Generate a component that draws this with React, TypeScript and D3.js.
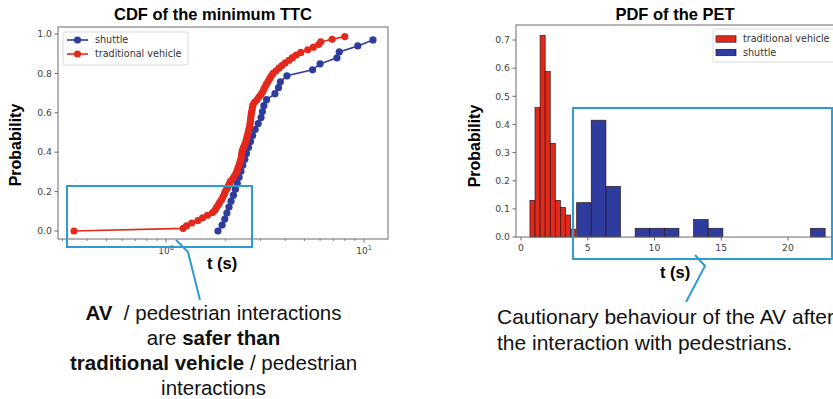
import React from "react";
import * as d3 from "d3";

// ---------- Data ----------
// CDF of minimum TTC (seconds), sorted samples; y = i / n
const shuttleTTC = [
  1.83, 1.92, 1.98, 2.03, 2.08, 2.13, 2.19, 2.24, 2.29, 2.34, 2.39, 2.44, 2.5, 2.55, 2.61, 2.67, 2.74,
  2.82, 2.92, 3.02, 3.07, 3.12, 3.22, 3.55, 3.7, 3.78, 4.08, 5.5, 6.0, 7.3, 7.5, 9.3, 11.1,
];
const vehicleTTC = [
  0.343, 1.22, 1.27, 1.35, 1.45, 1.53, 1.62, 1.72, 1.77, 1.8, 1.84, 1.87, 1.91, 1.94, 1.97, 1.99, 2.03,
  2.06, 2.09, 2.12, 2.18, 2.22, 2.26, 2.29, 2.31, 2.34, 2.36, 2.38, 2.4, 2.41, 2.42, 2.44, 2.47, 2.5,
  2.53, 2.55, 2.57, 2.59, 2.61, 2.63, 2.65, 2.66, 2.67, 2.68, 2.69, 2.7, 2.72, 2.73, 2.75, 2.8, 2.88,
  2.95, 3.02, 3.08, 3.12, 3.17, 3.22, 3.28, 3.34, 3.4, 3.47, 3.6, 3.72, 3.85, 4.0, 4.18, 4.35, 4.55,
  4.8, 5.2, 5.55, 5.9, 6.05, 6.9, 8.0,
];
const cdfXTicks = [1, 10];
const cdfYTicks = [0, 0.2, 0.4, 0.6, 0.8, 1.0];

// PDF of PET histograms
const vehicleEdges = [0.67, 1.05, 1.43, 1.81, 2.19, 2.57, 2.95, 3.33, 3.71, 4.09];
const vehicleDensity = [0.13, 0.46, 0.716, 0.588, 0.333, 0.13, 0.105, 0.078, 0.028];
const shuttleEdges = [
  4.17, 5.26, 6.36, 7.45, 8.55, 9.64, 10.74, 11.83, 12.93, 14.02, 15.12, 16.21, 17.31, 18.4, 19.5,
  20.59, 21.69, 22.78,
];
const shuttleDensity = [0.122, 0.415, 0.18, 0, 0.031, 0.031, 0.031, 0, 0.062, 0.031, 0, 0, 0, 0, 0, 0, 0.031];
const pdfXTicks = [0, 5, 10, 15, 20];
const pdfYTicks = [0, 0.1, 0.2, 0.3, 0.4, 0.5, 0.6, 0.7];

// ---------- Style ----------
const RED = "#e2291c";
const BLUE = "#2d3c9e";
const ANNO = "#2f9bd5";
const AXIS = "#6a6a6a";
const TICKTXT = "#444";
const SANS = "'Liberation Sans', Arial, sans-serif";
const MPL = "'DejaVu Sans', sans-serif";

function CdfChart() {
  const L = 58, R = 388, T = 27, B = 239;
  const x = d3.scaleLog().domain([Math.pow(10, -0.5455), Math.pow(10, 1.1212)]).range([L, R]);
  const y = d3.scaleLinear().domain([-0.0406, 1.0355]).range([B, T]);
  const line = d3.line<[number, number]>().x((d) => x(d[0])).y((d) => y(d[1]));
  const sPts: [number, number][] = shuttleTTC.map((t, i) => [t, i / shuttleTTC.length]);
  const vPts: [number, number][] = vehicleTTC.map((t, i) => [t, i / vehicleTTC.length]);
  const minor = x.ticks(30).filter((t) => !cdfXTicks.includes(t) && x(t) >= L && x(t) <= R);
  return (
    <g>
      <text x={213} y={20} textAnchor="middle" fontFamily={SANS} fontWeight="bold" fontSize={16.5}>
        CDF of the minimum TTC
      </text>
      {/* series */}
      <path d={line(sPts) || ""} fill="none" stroke={BLUE} strokeWidth={1.6} />
      {sPts.map((p, i) => (
        <circle key={"s" + i} cx={x(p[0])} cy={y(p[1])} r={3.6} fill={BLUE} />
      ))}
      <path d={line(vPts) || ""} fill="none" stroke={RED} strokeWidth={1.6} />
      {vPts.map((p, i) => (
        <circle key={"v" + i} cx={x(p[0])} cy={y(p[1])} r={3.6} fill={RED} />
      ))}
      {/* frame */}
      <rect x={L} y={T} width={R - L} height={B - T} fill="none" stroke={AXIS} strokeWidth={1} />
      {/* y ticks */}
      {cdfYTicks.map((v) => (
        <g key={"yt" + v}>
          <line x1={L - 3.5} x2={L} y1={y(v)} y2={y(v)} stroke={AXIS} />
          <text x={L - 6} y={y(v) + 3.3} textAnchor="end" fontFamily={MPL} fontSize={9.3} fill={TICKTXT}>
            {v.toFixed(1)}
          </text>
        </g>
      ))}
      {/* x ticks */}
      {cdfXTicks.map((v) => (
        <g key={"xt" + v}>
          <line x1={x(v)} x2={x(v)} y1={B} y2={B + 3.5} stroke={AXIS} />
          <text x={x(v)} y={B + 15} textAnchor="middle" fontFamily={MPL} fontSize={9} fill={TICKTXT}>
            10
            <tspan fontSize={6.5} dy={-4}>
              {Math.round(Math.log10(v))}
            </tspan>
          </text>
        </g>
      ))}
      {minor.map((v, i) => (
        <line key={"mn" + i} x1={x(v)} x2={x(v)} y1={B} y2={B + 2} stroke={AXIS} strokeWidth={0.8} />
      ))}
      <text x={222} y={269} textAnchor="middle" fontFamily={SANS} fontWeight="bold" fontSize={16.5}>
        t (s)
      </text>
      <text
        transform={`translate(21,145) rotate(-90)`}
        textAnchor="middle"
        fontFamily={SANS}
        fontWeight="bold"
        fontSize={16}
      >
        Probability
      </text>
      {/* legend */}
      <rect x={63} y={32} width={125} height={33} rx={2} fill="white" stroke="#d0d0d0" strokeWidth={0.8} />
      {[
        { label: "shuttle", color: BLUE, yy: 40 },
        { label: "traditional vehicle", color: RED, yy: 54 },
      ].map((e) => (
        <g key={e.label}>
          <line x1={67} x2={88} y1={e.yy} y2={e.yy} stroke={e.color} strokeWidth={1.6} />
          <circle cx={77.5} cy={e.yy} r={3.6} fill={e.color} />
          <text x={95} y={e.yy + 3.4} fontFamily={MPL} fontSize={9.6} fill="#333">
            {e.label}
          </text>
        </g>
      ))}
    </g>
  );
}

function PdfChart() {
  const L = 516, R = 845, T = 25, B = 237;
  const x = d3.scaleLinear().domain([-0.375, 24.27]).range([L, R]);
  const y = d3.scaleLinear().domain([0, 0.7534]).range([B, T]);
  const bars = (edges: number[], dens: number[], color: string, key: string) =>
    dens.map((h, i) =>
      h > 0 ? (
        <rect
          key={key + i}
          x={x(edges[i])}
          y={y(h)}
          width={x(edges[i + 1]) - x(edges[i])}
          height={y(0) - y(h)}
          fill={color}
          stroke="#2a1a1a"
          strokeWidth={0.7}
        />
      ) : null
    );
  return (
    <g>
      <text x={675} y={20} textAnchor="middle" fontFamily={SANS} fontWeight="bold" fontSize={16.5}>
        PDF of the PET
      </text>
      {bars(vehicleEdges, vehicleDensity, RED, "v")}
      {bars(shuttleEdges, shuttleDensity, BLUE, "s")}
      <rect x={L} y={T} width={R - L} height={B - T} fill="none" stroke={AXIS} strokeWidth={1} />
      {pdfYTicks.map((v) => (
        <g key={"yt" + v}>
          <line x1={L - 3.5} x2={L} y1={y(v)} y2={y(v)} stroke={AXIS} />
          <text x={L - 6} y={y(v) + 3.3} textAnchor="end" fontFamily={MPL} fontSize={9.3} fill={TICKTXT}>
            {v.toFixed(1)}
          </text>
        </g>
      ))}
      {pdfXTicks.map((v) => (
        <g key={"xt" + v}>
          <line x1={x(v)} x2={x(v)} y1={B} y2={B + 3.5} stroke={AXIS} />
          <text x={x(v)} y={B + 14} textAnchor="middle" fontFamily={MPL} fontSize={9.3} fill={TICKTXT}>
            {v}
          </text>
        </g>
      ))}
      <text x={675} y={278} textAnchor="middle" fontFamily={SANS} fontWeight="bold" fontSize={16.5}>
        t (s)
      </text>
      <text
        transform={`translate(480,146) rotate(-90)`}
        textAnchor="middle"
        fontFamily={SANS}
        fontWeight="bold"
        fontSize={16}
      >
        Probability
      </text>
      {/* legend */}
      <rect x={713} y={29} width={140} height={33} rx={2} fill="white" stroke="#d0d0d0" strokeWidth={0.8} />
      {[
        { label: "traditional vehicle", color: RED, yy: 39 },
        { label: "shuttle", color: BLUE, yy: 52.5 },
      ].map((e) => (
        <g key={e.label}>
          <rect x={716} y={e.yy - 3.2} width={20} height={6.4} fill={e.color} stroke="#2a1a1a" strokeWidth={0.7} />
          <text x={743} y={e.yy + 3.4} fontFamily={MPL} fontSize={9.6} fill="#333">
            {e.label}
          </text>
        </g>
      ))}
    </g>
  );
}

function Annotations() {
  return (
    <g>
      <rect x={67} y={186} width={185} height={61} fill="none" stroke={ANNO} strokeWidth={2} />
      <polyline points="176,240 188,252 200,300" fill="none" stroke={ANNO} strokeWidth={2} />
      <rect x={573} y={108} width={259} height={151} fill="none" stroke={ANNO} strokeWidth={2} />
      <polyline points="695,255 705,266 686,302" fill="none" stroke={ANNO} strokeWidth={2} />
      <g fontFamily={SANS} fontSize={20.5} fill="#111" textAnchor="middle">
        <text x={213.5} y={320}>
          <tspan fontWeight="bold">AV</tspan>
          <tspan>{"\u00a0 / pedestrian interactions"}</tspan>
        </text>
        <text x={213.5} y={345}>
          <tspan>are </tspan>
          <tspan fontWeight="bold">safer than</tspan>
        </text>
        <text x={213.5} y={370}>
          <tspan fontWeight="bold">traditional vehicle</tspan>
          <tspan> / pedestrian</tspan>
        </text>
        <text x={213.5} y={395}>interactions</text>
      </g>
      <g fontFamily={SANS} fontSize={21} fill="#111">
        <text x={497} y={324}>Cautionary behaviour of the AV after</text>
        <text x={497} y={350}>the interaction with pedestrians.</text>
      </g>
    </g>
  );
}

export default function App() {
  return (
    <svg
      width={833}
      height={399}
      viewBox="0 0 833 399"
      style={{ position: "absolute", left: 0, top: 0, background: "white" }}
    >
      <rect width={833} height={399} fill="white" />
      <CdfChart />
      <PdfChart />
      <Annotations />
    </svg>
  );
}
